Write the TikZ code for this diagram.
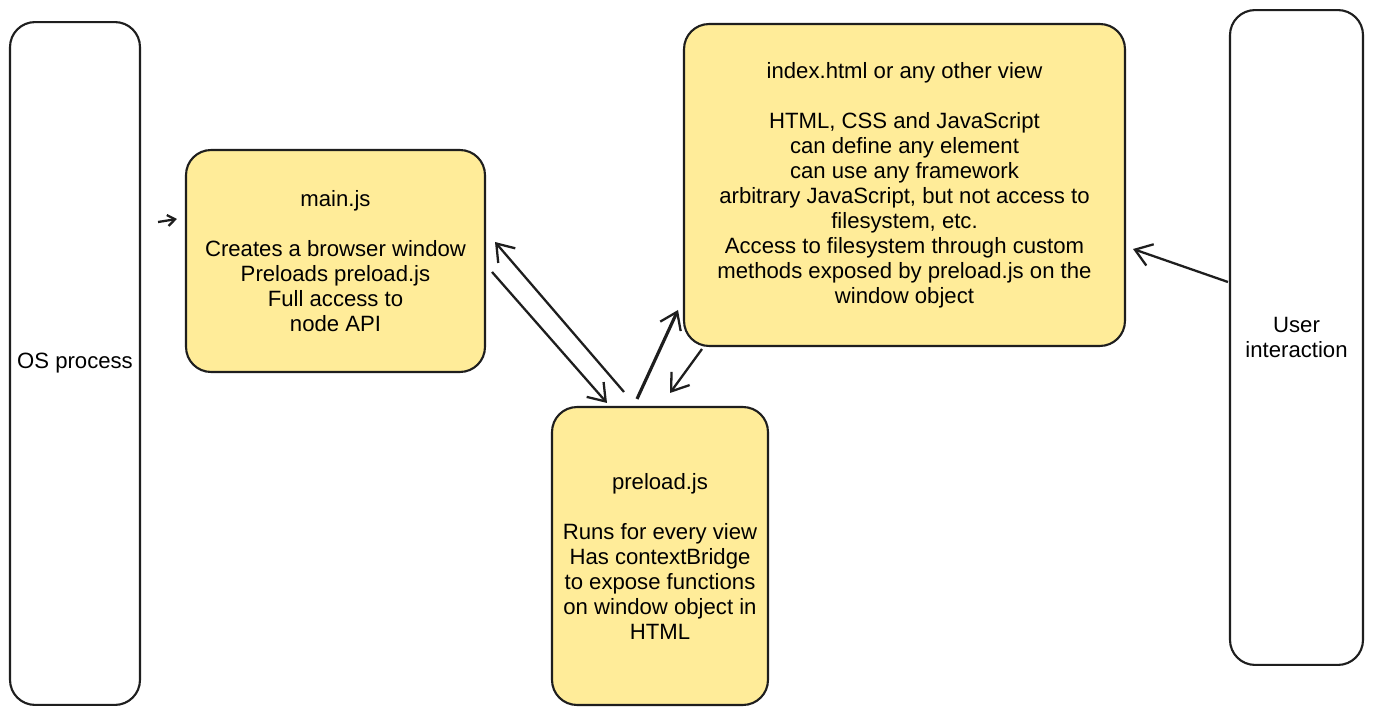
\documentclass[tikz,border=0pt]{standalone}
\usepackage{fontspec}
\setmainfont{Liberation Sans}
\usetikzlibrary{arrows.meta}
\definecolor{stroke}{HTML}{1E1E1E}
\definecolor{yel}{HTML}{FFEC99}
\begin{document}
\begin{tikzpicture}[x=0.02cm,y=-0.02cm,
  lane/.style={draw=stroke,line width=1.2pt,rounded corners=0.5cm,fill=white,align=center,font=\fontsize{12.6}{14.23}\selectfont,inner sep=0pt},
  card/.style={lane,fill=yel},
  conn/.style={draw=stroke,line width=1.3pt,-{Straight Barb[length=0.32cm,width=0.45cm,line width=1.3pt]}}]
\useasboundingbox[fill=white] (0,0) rectangle (1373,716);
\node[lane,minimum width=2.6cm,minimum height=13.66cm] (os) at (75,363.5) {OS process};
\node[lane,minimum width=2.66cm,minimum height=13.1cm] (user) at (1296.5,337.5) {User\\interaction};
\node[card,minimum width=5.98cm,minimum height=4.44cm] (main) at (335.5,261)
  {main.js\\[14.23pt]Creates a browser window\\Preloads preload.js\\Full access to\\node API};
\node[card,minimum width=4.32cm,minimum height=5.96cm] (preload) at (660,556)
  {preload.js\\[14.23pt]Runs for every view\\Has contextBridge\\to expose functions\\on window object in\\HTML};
\node[card,minimum width=8.82cm,minimum height=6.44cm] (index) at (904.5,185)
  {index.html or any other view\\[14.23pt]HTML, CSS and JavaScript\\can define any element\\can use any framework\\arbitrary JavaScript, but not access to\\filesystem, etc.\\Access to filesystem through custom\\methods exposed by preload.js on the\\window object};
\draw[conn,-{Straight Barb[length=0.15cm,width=0.22cm,line width=1.3pt]}] ([shift={(17,-141.5)}]os.east) -- ([shift={(-8,-42)}]main.west);
\draw[conn] ([shift={(6,11)}]main.east) -- ([shift={(-53,-3)}]preload.north);
\draw[conn] ([shift={(-36,-14)}]preload.north) -- ([shift={(9,-19)}]main.east);
\draw[conn,line width=1.8pt] ([shift={(-23,-7)}]preload.north) -- ([shift={(-5,125)}]index.west);
\draw[conn] ([shift={(-202.5,2)}]index.south) -- ([shift={(10,-13)}]preload.north);
\draw[conn] ([shift={(-1,-55.5)}]user.west) -- ([shift={(7,64)}]index.east);
\end{tikzpicture}
\end{document}
